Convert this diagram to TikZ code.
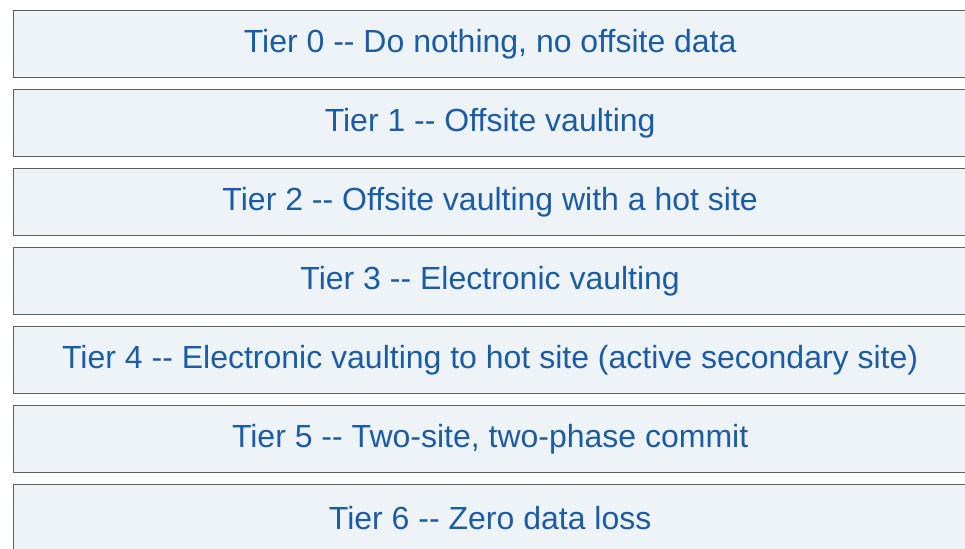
\documentclass[tikz,border=0pt]{standalone}
\usepackage{fontspec}
\setmainfont{Liberation Sans}
\usepackage{xcolor}
\definecolor{cText}{HTML}{1B5CA8}
\definecolor{cFill}{HTML}{EEF3F7}
\definecolor{cLine}{HTML}{5E5E5E}
\usetikzlibrary{positioning}
\newcommand{\tdash}{-\kern0pt-}
\tikzset{
  tier-box/.style={draw=cLine,line width=1.3pt,fill=cFill,
    minimum width=953pt,minimum height=67pt,inner sep=0pt,
    text=cText,font=\fontsize{32}{38}\selectfont},
}
\begin{document}
\begin{tikzpicture}[x=1pt,y=1pt,node distance=10.7pt]
  \useasboundingbox (0,0) rectangle (965,-548);
  \clip (0,0) rectangle (965,-548);
  \node[tier-box,anchor=north west] (tier0) at (13,-10) {Tier 0 \tdash{} Do nothing, no offsite data};
  \node[tier-box,below=of tier0] (tier1) {Tier 1 \tdash{} Offsite vaulting};
  \node[tier-box,below=of tier1] (tier2) {Tier 2 \tdash{} Offsite vaulting with a hot site};
  \node[tier-box,below=of tier2] (tier3) {Tier 3 \tdash{} Electronic vaulting};
  \node[tier-box,below=of tier3] (tier4) {Tier 4 \tdash{} Electronic vaulting to hot site (active secondary site)};
  \node[tier-box,below=of tier4] (tier5) {Tier 5 \tdash{} Two-site, two-phase commit};
  \node[tier-box,below=of tier5] (tier6) {Tier 6 \tdash{} Zero data loss};
\end{tikzpicture}
\end{document}
